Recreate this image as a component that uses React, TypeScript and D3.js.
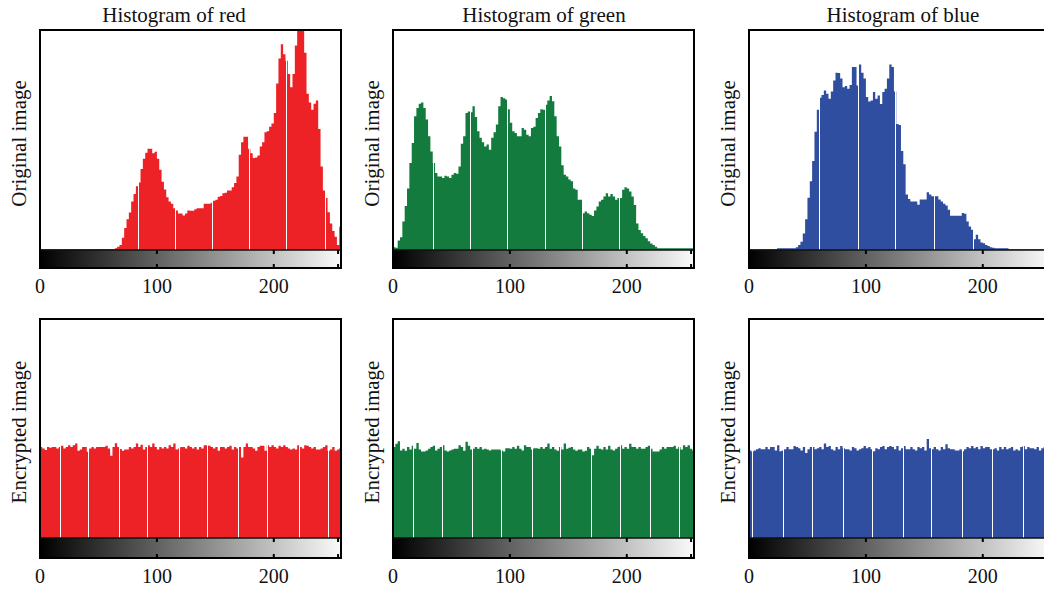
import React from "react";
import * as d3 from "d3";

// ---- data (relative counts, 0..100 = full panel height), 2-level bins starting at 0 ----
const redOriginal = [0.5,0.5,0.5,0.5,0.5,0.5,0.5,0.5,0.5,0.5,0.5,0.5,0.5,0.5,0.5,0.5,0.5,0.5,0.5,0.5,0.5,0.5,0.5,0.5,0.5,0.5,0.5,0.5,0.5,0.5,0.5,0.5,
  0.8,1.5,2.3,5.6,10,14,17,22,25.5,29,30.7,36.8,41.5,44.2,46,46,44,44.7,41.5,36.5,31,27.5,24,22,21,19,18,16.6,16.6,15.7,16.6,18,17.8,17.8,18.5,19,19,19,
  21,21,21,21.5,22.4,22.8,24.2,24.6,25.8,26,27,27,28.5,30.4,33.4,43.3,49,51.5,51.5,46,44,41.8,42,43,47,49,53.5,54,56,57.5,
  62.3,75.7,87,93.5,89,86,80,74,80,93,104,106,103,89.7,71,67,63.8,66.5,68,55,38,27,23.6,17.2,12,8.6,6,2.3,10.6];
const greenOriginal = [1.2,1.0,4.3,5.8,13,20,28,39.5,48.6,60.8,64.6,66.5,67,64.6,59.3,51.7,44.8,39.5,35,33.4,33.4,32.7,33.8,33.4,32.7,34.2,35,34.7,38,48.3,
  51.7,62.3,63,62.6,65.3,60.5,54,51,49,47,47.9,45.6,51,53.5,57,65.3,69.6,69,68.4,64,57.8,54,53.2,51.7,51.7,55.5,54.7,52.4,51.7,55.5,
  56,60,62.3,64,63.8,66,68,70,67.6,60.8,51.7,47,38.5,34.2,33.4,32,31.2,28,27.4,22.8,22.8,16.7,17.5,16.7,16,15.5,18,19.8,22,22.8,
  24.3,25.8,24.3,25.5,24.3,22.8,23.6,23.6,27.4,28.5,28,26.6,24.3,20.5,12,9.1,7.6,6.4,5.3,4,3,2.3,1.5,
  0.8,0.8,0.8,0.8,0.8,0.8,0.8,0.8,0.8,0.8,0.8,0.8,0.8,0.8,0.8,0.8];
const blueOriginal = [0.3,0.3,0.3,0.3,0.3,0.3,0.3,0.3,0.3,0.3,0.3,0.3,0.8,0.8,0.8,0.8,0.8,0.8,0.8,0.8,
  1.2,2.3,3.8,7.5,14,23.7,31.3,40.5,53.7,63.8,69.2,70.5,72.5,71,68.7,72,77,80.6,80.5,78,74,74.5,73.3,75,83.2,83.2,74.8,84.3,80.6,77.9,
  69.5,67.5,68,71.8,68.7,70.2,66.4,71.8,73.3,77.9,84.3,83.2,72,57.3,56.8,45,39,25.2,23.2,22.1,22.1,22.1,20.6,22.9,22.9,22.9,26.3,25.2,24.4,24.4,
  24.4,22.9,22.1,21,20.2,18.3,15.6,15.6,15.6,15.6,15.6,16.8,16.5,13,10.7,9.2,4.9,6.9,4.9,3.4,3.1,2.3,1.8,1.2,1.0,
  0.8,0.8,0.8,0.8,0.8,0.8,0.3,0.3,0.3,0.3,0.3,0.3,0.3,0.3,0.3,0.3,0.3,0.3,0.3,0.3,0.3,0.3,0.3,0.3];
const redEncrypted = [41.6,40.9,40.2,41.6,41.2,41.6,41.6,40.9,41.6,42.1,40.9,41.6,42.4,41.6,42.4,43.1,39.8,40.4,41.6,41.6,
  39.4,40.9,41.6,40.9,41.6,41.6,41.6,41.6,42.1,40.9,37.6,41.6,43.3,41.6,40.6,39.8,40.4,40.4,41.6,40.9,
  41.6,43.1,41.6,42.6,40.4,41.6,42.4,41.6,43.1,41.6,40.4,41.6,40.9,41.6,40.9,42.4,41.6,43.1,40.4,40.9,
  41.6,41.6,40.9,42.1,41.6,40.9,41.6,40.4,41.6,40.9,42.4,42.4,42.1,41.6,40.9,41.6,39.8,41.6,41.6,40.9,
  41.6,42.1,40.4,41.6,40.9,41.6,36.8,41.6,43.1,41.6,41.6,40.9,39.8,41.6,42.1,42.1,39.8,42.4,41.6,42.4,
  41.6,40.9,42.1,41.6,42.4,41.6,40.9,40.4,40.9,40.4,42.4,41.6,40.9,42.4,42.1,41.6,40.9,41.6,40.4,40.4,
  40.9,41.6,42.4,39.8,40.4,41.6,39.8,40.4,41.0];
const greenEncrypted = [41.5,43.0,44.2,40.0,40.8,39.8,41.6,40.4,42.1,40.8,43.4,40.4,39.5,39.5,40.0,40.8,41.6,42.1,40.0,40.8,
  41.6,42.4,40.0,39.5,40.0,40.4,40.8,40.8,42.4,41.6,39.8,44.0,42.1,40.4,40.8,41.6,40.8,41.6,40.4,40.8,
  40.4,39.9,40.4,40.4,40.4,40.4,40.0,39.5,41.0,41.0,40.8,41.6,40.8,42.1,40.8,40.0,42.4,41.6,41.6,40.4,
  41.0,41.0,40.8,41.6,40.8,41.6,43.2,40.8,41.6,40.4,39.8,41.6,40.4,43.2,40.8,41.2,41.6,40.4,39.8,40.4,
  40.4,39.5,39.8,41.6,40.8,37.8,40.8,42.1,40.8,40.4,41.6,40.4,42.1,40.4,40.0,40.8,41.6,42.4,40.8,41.6,
  40.8,43.0,41.6,41.6,40.8,41.6,40.8,40.8,41.6,42.1,40.8,39.5,39.5,39.5,40.4,41.6,40.8,41.6,41.6,41.6,
  42.1,40.8,41.6,40.4,42.4,41.6,42.4,40.8,40.0];
const blueEncrypted = [40.0,39.5,40.0,40.5,41.0,40.5,40.5,41.5,40.5,41.5,41.5,40.0,42.3,39.6,40.0,40.5,41.5,40.5,40.5,42.0,
  41.5,41.0,40.0,41.5,38.8,40.5,41.5,41.5,40.5,41.0,41.5,40.5,43.2,41.5,42.0,40.5,40.0,41.5,40.5,42.0,
  41.0,40.5,40.5,40.0,41.5,41.0,40.0,40.5,41.0,42.0,41.0,41.5,40.5,39.6,41.0,40.5,41.5,42.0,40.5,41.5,
  42.0,41.5,40.5,42.0,40.0,41.0,42.0,40.5,40.5,41.5,40.5,40.0,41.5,41.0,41.5,40.0,45.2,41.0,40.5,41.5,
  40.5,40.0,41.5,40.5,42.8,41.0,40.5,40.5,40.0,40.0,40.5,39.6,40.5,41.5,41.0,42.0,41.0,41.5,40.5,42.0,
  41.0,41.5,41.5,40.5,40.5,41.0,40.0,41.5,40.5,41.5,40.5,41.0,41.5,40.0,40.5,40.0,41.5,42.0,40.5,41.5,
  41.0,41.0,40.5,41.5,40.0,41.0,41.5,40.5,41.0];

// rendering seams visible in the source raster (grey level positions)
const redOriginalSeams = [84, 115.7, 147.3, 178.9, 210.5, 243.6];
const greenOriginalSeams = [34.6, 65.6, 97.2, 130, 161.4, 193];
const blueOriginalSeams = [60.2, 93.6, 125.2, 158.6, 192];
const redEncryptedSeams = [16.8, 41.3, 67.8, 91.7, 119, 143, 169.5, 194.3, 221.7, 246.7];
const greenEncryptedSeams = [17.2, 41.7, 67.9, 92.4, 118.6, 143, 169.3, 193.8, 220, 244.5];
const blueEncryptedSeams = [2.8, 29.3, 54, 80.6, 105.4, 132, 156, 182.6, 207.5, 234];

const titles = ["Histogram of red", "Histogram of green", "Histogram of blue"];
const rowLabels = ["Original image", "Encrypted image"];
const xTicks = [0, 100, 200];
const barTicks = [100, 200, 255];
const binWidth = 2;

// ---- layout ----
const W = 1044, H = 589;
const colLeft = [40, 393, 749];
const colWidth = 301;
const titleX = [174, 544, 903];
const rows = [
  { top: 30, plotBottom: 250, gradBottom: 268, tickBaseline: 293 },
  { top: 319, plotBottom: 538, gradBottom: 558, tickBaseline: 583 },
];
const colors = ["#ED2226", "#147B3E", "#2F4EA0"];
const FONT = "'Liberation Serif', 'DejaVu Serif', serif";

const panelData = [
  [redOriginal, greenOriginal, blueOriginal],
  [redEncrypted, greenEncrypted, blueEncrypted],
];
const panelSeams = [
  [redOriginalSeams, greenOriginalSeams, blueOriginalSeams],
  [redEncryptedSeams, greenEncryptedSeams, blueEncryptedSeams],
];

function Panel({ r, c }: { r: number; c: number }) {
  const row = rows[r];
  const left = colLeft[c];
  const x = d3.scaleLinear().domain([0, 257.5]).range([left, left + colWidth]);
  const y = d3.scaleLinear().domain([0, 100]).range([row.plotBottom, row.top]);
  const data = panelData[r][c];
  const pts: [number, number][] = data.map((v, i) => [i * binWidth, v]);
  pts.push([data.length * binWidth, data[data.length - 1]]);
  const area = d3
    .area<[number, number]>()
    .x((d) => x(d[0]))
    .y0(y(0))
    .y1((d) => y(d[1]))
    .curve(d3.curveStepAfter);
  const clipId = `clip-${r}-${c}`;
  const gradId = "grayGrad";
  const seams = panelSeams[r][c];
  return (
    <g>
      <defs>
        <clipPath id={clipId}>
          <rect x={left} y={row.top} width={colWidth} height={row.plotBottom - row.top} />
        </clipPath>
      </defs>
      <g clipPath={`url(#${clipId})`}>
        <path d={area(pts) || ""} fill={colors[c]} />
        {seams.map((s, i) => (
          <line key={i} x1={Math.round(x(s)) + 0.5} x2={Math.round(x(s)) + 0.5} y1={y(0)} y2={row.top}
            stroke="#fff" strokeWidth={1} />
        ))}
      </g>
      {/* gray level bar */}
      <rect x={left} y={row.plotBottom} width={colWidth} height={row.gradBottom - row.plotBottom}
        fill={`url(#${gradId})`} stroke="#111" strokeWidth={1.5} />
      {barTicks.map((t) => (
        <g key={t}>
          <line x1={x(t)} x2={x(t)} y1={row.plotBottom} y2={row.plotBottom + 4} stroke="#000" strokeWidth={2} />
          <line x1={x(t)} x2={x(t)} y1={row.gradBottom - 4} y2={row.gradBottom} stroke="#000" strokeWidth={2} />
        </g>
      ))}
      {/* frame */}
      <rect x={left} y={row.top} width={colWidth} height={row.gradBottom - row.top}
        fill="none" stroke="#000" strokeWidth={2} />
      {xTicks.map((t) => (
        <text key={t} x={x(t)} y={row.tickBaseline} textAnchor="middle" fontFamily={FONT} fontSize={20} fill="#111">
          {t}
        </text>
      ))}
      <text transform={`translate(${left - 14},${(row.top + row.plotBottom) / 2 + 3.5}) rotate(-90)`}
        textAnchor="middle" fontFamily={FONT} fontSize={21} fill="#111">
        {rowLabels[r]}
      </text>
      {r === 0 && (
        <text x={titleX[c]} y={22} textAnchor="middle" fontFamily={FONT} fontSize={21} fill="#111">
          {titles[c]}
        </text>
      )}
    </g>
  );
}

export default function App() {
  return (
    <svg width={W} height={H} style={{ position: "absolute", left: 0, top: 0, background: "#fff" }}>
      <defs>
        <linearGradient id="grayGrad" x1="0" x2="1" y1="0" y2="0">
          <stop offset="0%" stopColor="#000" />
          <stop offset="100%" stopColor="#fafafa" />
        </linearGradient>
      </defs>
      <rect width={W} height={H} fill="#fff" />
      {[0, 1].map((r) => [0, 1, 2].map((c) => <Panel key={`${r}-${c}`} r={r} c={c} />))}
    </svg>
  );
}
